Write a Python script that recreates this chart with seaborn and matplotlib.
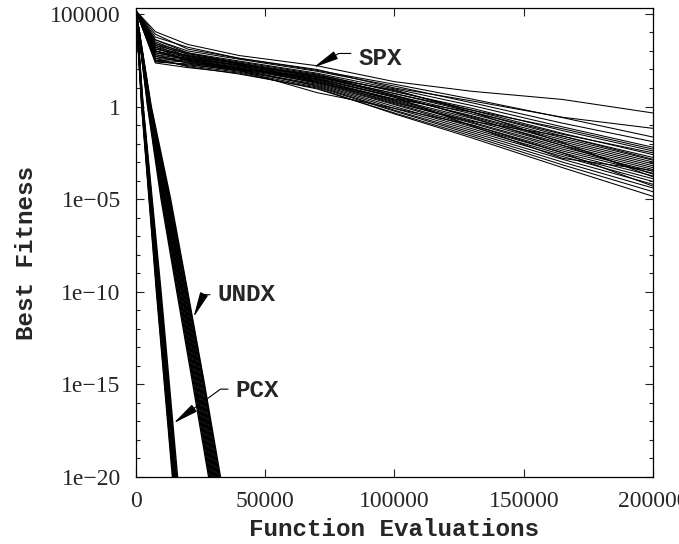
import matplotlib
matplotlib.use("Agg")
import matplotlib.pyplot as plt
import matplotlib.ticker as mticker
import pandas as pd
import seaborn as sns

# ---------------- data (log10 of best fitness) ----------------
spx_evals = [0, 7500, 20000, 40000, 70000, 100000, 130000, 165000, 200000]
spx_log10 = [
    [5.16, 4.04, 3.35, 2.75, 2.20, 1.34, 0.82, 0.38, -0.35],
    [5.16, 3.75, 3.20, 2.60, 2.00, 1.00, 0.30, -0.58, -1.18],
    [5.16, 3.90, 3.10, 2.60, 1.95, 1.20, 0.40, -0.60, -1.65],
    [5.16, 3.60, 3.00, 2.55, 1.90, 1.10, 0.20, -0.90, -1.90],
    [5.16, 3.40, 2.90, 2.45, 1.80, 0.95, 0.05, -1.10, -2.20],
    [5.16, 3.30, 2.85, 2.40, 1.75, 0.80, -0.10, -1.30, -2.40],
    [5.16, 3.50, 2.80, 2.35, 1.70, 0.85, -0.20, -1.45, -2.60],
    [5.16, 3.20, 2.75, 2.30, 1.65, 0.70, -0.30, -1.60, -2.75],
    [5.16, 3.10, 2.70, 2.30, 1.60, 0.60, -0.40, -1.70, -2.90],
    [5.16, 2.90, 2.60, 2.25, 1.55, 0.50, -0.50, -1.80, -3.00],
    [5.16, 3.00, 2.65, 2.20, 1.50, 0.55, -0.55, -1.90, -3.10],
    [5.16, 2.80, 2.55, 2.15, 1.45, 0.40, -0.65, -2.00, -3.20],
    [5.16, 2.70, 2.50, 2.10, 1.40, 0.35, -0.75, -2.10, -3.30],
    [5.16, 3.30, 2.60, 2.20, 1.45, 0.30, -0.85, -2.20, -3.40],
    [5.16, 2.60, 2.45, 2.05, 1.35, 0.25, -0.90, -2.30, -3.50],
    [5.16, 2.50, 2.40, 2.00, 1.30, 0.15, -1.00, -2.40, -3.60],
    [5.16, 3.00, 2.50, 2.10, 1.25, 0.10, -1.10, -2.50, -3.75],
    [5.16, 2.80, 2.35, 1.95, 1.20, 0.00, -1.20, -2.60, -3.90],
    [5.16, 2.40, 2.30, 1.90, 1.15, -0.10, -1.30, -2.70, -4.05],
    [5.16, 3.20, 2.45, 2.00, 1.10, -0.20, -1.40, -2.85, -4.20],
    [5.16, 2.50, 2.20, 1.85, 1.05, -0.25, -1.50, -3.00, -4.40],
    [5.16, 2.35, 2.10, 1.80, 0.95, -0.35, -1.60, -3.15, -4.60],
    [5.16, 2.60, 2.15, 1.75, 1.00, -0.40, -1.70, -3.30, -4.85],
    [5.16, 3.60, 2.90, 2.30, 1.60, 0.70, -0.20, -1.20, -2.30],
    [5.16, 2.90, 2.55, 2.25, 1.70, 0.60, -0.60, -2.10, -3.65],
    [5.16, 3.40, 2.70, 2.20, 1.30, 0.40, -0.30, -1.50, -2.50],
    [5.16, 2.70, 2.35, 2.00, 1.60, 0.90, -0.30, -1.95, -3.80],
    [5.16, 3.10, 2.75, 2.35, 1.35, 0.20, -0.80, -1.60, -2.85],
    [5.16, 2.45, 2.25, 1.95, 0.75, -0.10, -1.00, -2.50, -4.30],
    [5.16, 3.00, 2.50, 2.05, 1.50, 0.50, -1.05, -2.80, -3.45],
]

# UNDX / PCX: evaluations at which each run reaches the given log10 levels
level_log10 = [5.16, 0, -5, -10, -15, -20.5]
undx_evals = [
    [0, 4500, 9700, 15800, 22000, 28700],
    [0, 4600, 10000, 16100, 22400, 29050],
    [0, 4700, 10300, 16500, 22700, 29400],
    [0, 4800, 10550, 16800, 23100, 29750],
    [0, 4900, 10800, 17100, 23400, 30100],
    [0, 5000, 11100, 17500, 23800, 30450],
    [0, 5150, 11400, 17800, 24200, 30800],
    [0, 5250, 11700, 18100, 24500, 31150],
    [0, 5300, 12000, 18400, 24900, 31500],
    [0, 5450, 12250, 18800, 25200, 31850],
    [0, 5550, 12500, 19100, 25600, 32200],
    [0, 5650, 12800, 19400, 26000, 32550],
    [0, 5750, 13100, 19800, 26300, 32900],
    [0, 5900, 13400, 20000, 26500, 33300],
]
pcx_evals = [
    [0, 2200, 5050, 7900, 11000, 14400],
    [0, 2250, 5150, 8050, 11150, 14600],
    [0, 2300, 5250, 8200, 11350, 14800],
    [0, 2350, 5350, 8350, 11500, 14950],
    [0, 2400, 5450, 8500, 11650, 15100],
    [0, 2450, 5550, 8650, 11800, 15250],
    [0, 2500, 5650, 8800, 11950, 15400],
    [0, 2550, 5750, 8950, 12100, 15550],
    [0, 2600, 5850, 9100, 12250, 15700],
    [0, 2650, 5950, 9250, 12400, 15850],
    [0, 2700, 6050, 9400, 12600, 16000],
    [0, 2800, 6250, 9700, 12900, 16400],
]

x_ticks = [0, 50000, 100000, 150000, 200000]
x_ticklabels = ["0", "50000", "100000", "150000", "200000"]
y_ticks = [1e5, 1, 1e-5, 1e-10, 1e-15, 1e-20]
y_ticklabels = ["100000", "1", "1e\u221205", "1e\u221210", "1e\u221215", "1e\u221220"]

# ---------------- long table ----------------
rows = []
for i, run in enumerate(spx_log10):
    for x, v in zip(spx_evals, run):
        rows.append(("SPX", f"SPX{i}", x, 10.0 ** v))
for i, run in enumerate(undx_evals):
    for x, v in zip(run, level_log10):
        rows.append(("UNDX", f"UNDX{i}", x, 10.0 ** v))
for i, run in enumerate(pcx_evals):
    for x, v in zip(run, level_log10):
        rows.append(("PCX", f"PCX{i}", x, 10.0 ** v))
df = pd.DataFrame(rows, columns=["method", "run", "evals", "fitness"])

# ---------------- style ----------------
sns.set_style("ticks")
plt.rcParams["font.family"] = ["Liberation Serif", "DejaVu Serif"]
mono = ["Liberation Mono", "DejaVu Sans Mono"]

fig = plt.figure(figsize=(6.79, 5.44), dpi=100)
ax = fig.add_axes([136 / 679, 67 / 544, 517 / 679, 468.7 / 544])
ax.set_facecolor("white")

for method, lw in [("SPX", 0.75), ("UNDX", 1.0), ("PCX", 1.0)]:
    sns.lineplot(data=df[df["method"] == method], x="evals", y="fitness",
                 units="run", estimator=None, color="black", linewidth=lw,
                 ax=ax, legend=False)

ax.set_yscale("log")
ax.set_xlim(0, 200000)
ax.set_ylim(1e-20, 2e5)

ax.xaxis.set_major_locator(mticker.FixedLocator(x_ticks))
ax.xaxis.set_major_formatter(mticker.FixedFormatter(x_ticklabels))
ax.xaxis.set_minor_locator(mticker.NullLocator())
ax.yaxis.set_major_locator(mticker.FixedLocator(y_ticks))
ax.yaxis.set_major_formatter(mticker.FixedFormatter(y_ticklabels))
ax.yaxis.set_minor_locator(mticker.LogLocator(base=10, subs=(1.0,), numticks=60))
ax.yaxis.set_minor_formatter(mticker.NullFormatter())

ax.tick_params(which="both", direction="in", top=True, right=True,
               color="#222222", width=0.8)
ax.tick_params(which="major", length=6, labelsize=17, pad=10)
ax.tick_params(axis="y", which="major", pad=11)
ax.tick_params(which="minor", length=3)
for s in ax.spines.values():
    s.set_linewidth(0.9)
    s.set_color("black")

ax.set_xlabel("Function Evaluations", fontfamily=mono, fontweight="bold", fontsize=17.5)
ax.set_ylabel("Best Fitness", fontfamily=mono, fontweight="bold", fontsize=17.5)
ax.xaxis.set_label_coords(0.5, -0.088)
ax.yaxis.set_label_coords(-0.19, 0.478)

def arrow(angleB, relpos_y=0.5):
    return dict(arrowstyle="-|>,head_length=0.9,head_width=0.15", color="black",
                lw=0.8, shrinkA=3, shrinkB=0, relpos=(0, relpos_y),
                connectionstyle=f"angle,angleA=0,angleB={angleB},rad=0")

ann_kw = dict(ha="left", va="center", fontfamily=mono, fontweight="bold", fontsize=17.5)
ax.annotate("SPX", xy=(68600, 10 ** 2.1), xytext=(86000, 10 ** 2.59),
            arrowprops=arrow(29, 0.72), **ann_kw)
ax.annotate("UNDX", xy=(22240, 10 ** -11.38), xytext=(31500, 10 ** -10.16),
            arrowprops=arrow(65.6, 0.5), **ann_kw)
ax.annotate("PCX", xy=(14500, 10 ** -17.1), xytext=(38480, 10 ** -15.32),
            arrowprops=arrow(36, 0.55), **ann_kw)

fig.savefig("out.png", dpi=100, facecolor="white")
